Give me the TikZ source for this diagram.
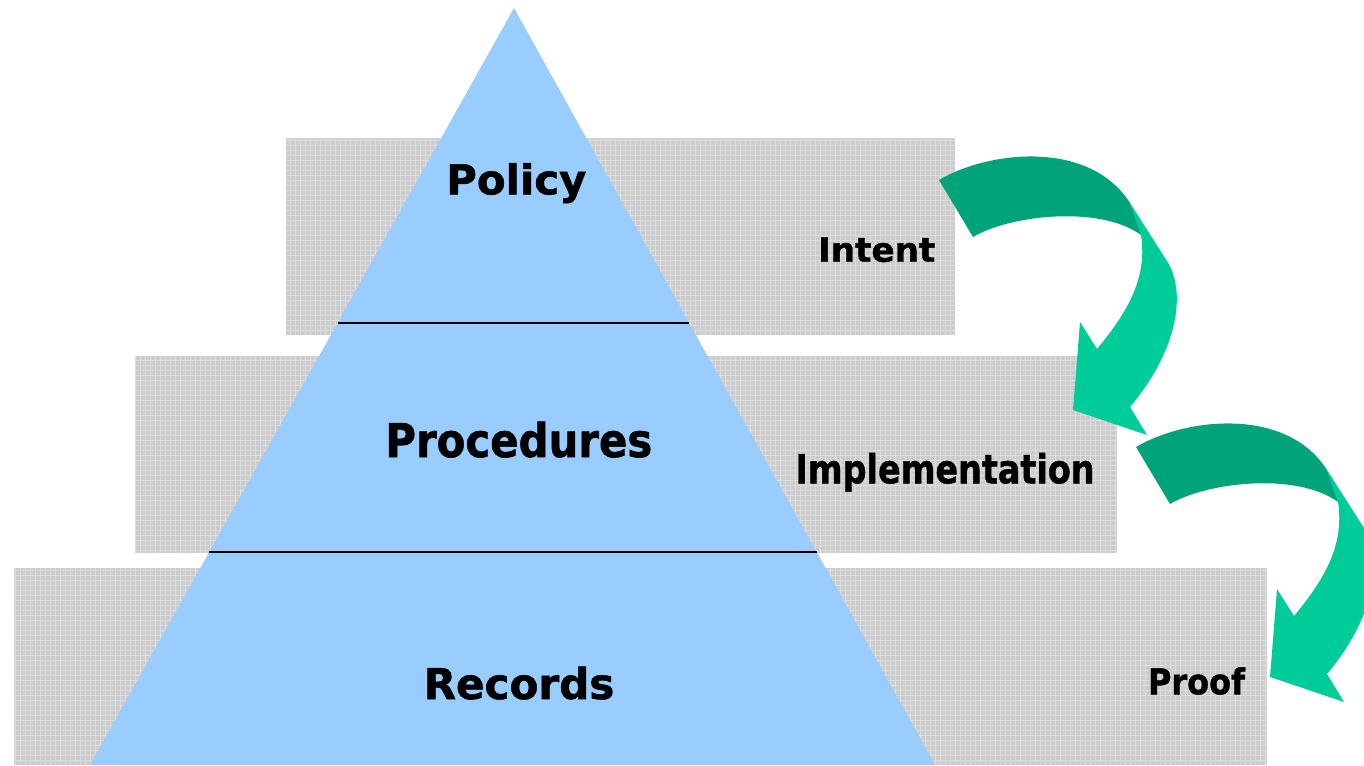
\documentclass[tikz,border=0pt]{standalone}
\usepackage{graphicx}
\usepackage{fontspec}
\setmainfont{DejaVu Sans}[BoldFeatures={FakeBold=1.2}]
\usetikzlibrary{calc}
\definecolor{bandgray}{HTML}{CCCCCC}
\definecolor{pyramidblue}{HTML}{99CCFF}
\definecolor{arrowdark}{HTML}{00A37A}
\definecolor{arrowlight}{HTML}{00CC99}
% horizontally condensed or widened label text
\newcommand\hsquash[2]{\scalebox{#1}[1]{#2}}
\begin{document}
\begin{tikzpicture}[x=1pt,y=-1pt,
  bandtexture/.style={draw=white,opacity=0.35,line width=0.9pt,step=5pt},
  label/.style={anchor=base,font=\fontsize{#1}{#1}\selectfont\bfseries},
  divider/.style={draw=black,line width=1.4pt},
  curlarrow/.pic={
    % lighter, descending part of the ribbon with its head
    \fill[arrowlight] (1130,203) -- (1165,258)
      .. controls (1188,290) and (1178,350) .. (1130,407)
      -- (1147,435) -- (1073,410) -- (1080,322) -- (1097,349)
      .. controls (1125,315) and (1148,280) .. (1141,235) -- cycle;
    % darker, rising part of the ribbon near its tail
    \fill[arrowdark] (939,180) .. controls (990,150) and (1090,140) .. (1130,203)
      -- (1141,235) .. controls (1100,205) and (1010,215) .. (973,237) -- cycle;
  }]
\useasboundingbox (0,0) rectangle (1364,765);
\clip (0,0) rectangle (1364,765);

% textured grey bands behind the pyramid
\foreach \xa/\ya/\xb/\yb in {286/138/955/335, 135/356/1117/553, 14/568/1267/765}{
  \fill[bandgray] (\xa,\ya) rectangle (\xb,\yb);
  \begin{scope}
    \clip (\xa,\ya) rectangle (\xb,\yb);
    \draw[bandtexture] (\xa,\ya) grid (\xb,\yb);
  \end{scope}
}

% pyramid
\coordinate (apex) at (514,8);
\coordinate (bl) at (90,765);
\coordinate (br) at (935,765);
\fill[pyramidblue] (apex) -- (br) -- (bl) -- cycle;
\draw[divider] ($(apex)!0.4161!(bl)$) -- ($(apex)!0.4161!(br)$);
\draw[divider] ($(apex)!0.7186!(bl)$) -- ($(apex)!0.7186!(br)$);

% tier labels
\node[label=41] (policy) at (516.3,194.3) {\hsquash{1.02}{Policy}};
\node[label=46.5] (procedures) at (518.8,457) {\hsquash{0.9}{Procedures}};
\node[label=42.5] (records) at (519,699) {\hsquash{0.99}{Records}};

% side labels
\node[label=33.5] (intent) at (876.7,261.7) {\hsquash{1.02}{Intent}};
\node[label=40] (implementation) at (945,483.3) {\hsquash{0.835}{Implementation}};
\node[label=35.5] (proof) at (1196.5,694.3) {\hsquash{0.9}{Proof}};

% curved arrows between the levels
\pic at (0,0) {curlarrow};
\pic at (197,267) {curlarrow};
\end{tikzpicture}
\end{document}
